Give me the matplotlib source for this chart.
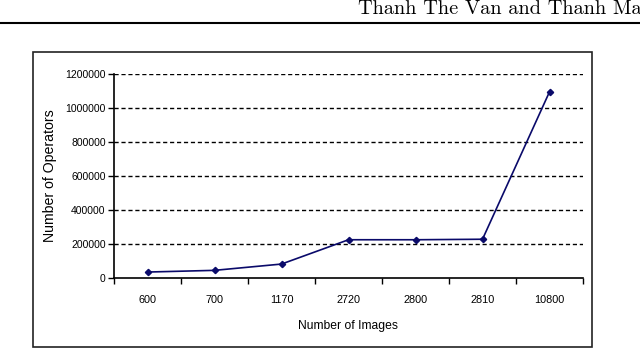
import matplotlib
matplotlib.use("Agg")
import matplotlib.pyplot as plt
from matplotlib.patches import Rectangle
from matplotlib.lines import Line2D

categories = ["600", "700", "1170", "2720", "2800", "2810", "10800"]
operators = [35000, 45000, 82000, 225000, 225000, 228000, 1095000]
y_ticks = [0, 200000, 400000, 600000, 800000, 1000000, 1200000]

plt.rcParams['font.family'] = ['Liberation Sans', 'DejaVu Sans']

fig = plt.figure(figsize=(6.4, 3.53), dpi=100)
W, H = 640, 353

# header (clipped at the right edge, as in the reference)
fig.text(358 / W, 1 - 14 / H, "Thanh The Van and Thanh Ma", family=['cmr10', 'DejaVu Serif'],
         fontsize=14.6, ha='left', va='baseline')
fig.add_artist(Line2D([0, 1], [1 - 23 / H, 1 - 23 / H], color='black', lw=1.5,
                      transform=fig.transFigure))
# chart frame
fig.add_artist(Rectangle((32.5 / W, 1 - 347 / H), (591.5 - 32.5) / W, (347 - 52) / H,
                         transform=fig.transFigure, fill=False, ec='#222222', lw=1.2))

ax = fig.add_axes([114 / W, 1 - 278 / H, (583 - 114) / W, (278 - 74) / H])
x = list(range(len(categories)))
ax.plot(x, operators, color='#0a0a6a', lw=1.2, marker='D', markersize=3.2,
        markerfacecolor='#0a0a6a', markeredgecolor='#0a0a6a')
ax.set_xlim(-0.5, len(categories) - 0.5)
ax.set_ylim(0, 1200000)
ax.set_yticks(y_ticks)
ax.set_yticklabels([str(v) for v in y_ticks])
ax.set_xticks([i - 0.5 for i in range(len(categories) + 1)])
ax.set_xticklabels([])
ax.set_xticks(x, minor=True)
ax.set_xticklabels(categories, minor=True)
ax.tick_params(axis='x', which='minor', length=0, pad=12, labelsize=7.8)
ax.tick_params(axis='x', which='major', length=4, width=1, direction='out')
ax.tick_params(axis='y', length=4, width=1, direction='out', labelsize=7.5, pad=2)
for v in y_ticks[1:]:
    ax.axhline(v, color='black', lw=1, ls=(0, (3, 2)), zorder=0)
ax.spines['top'].set_visible(False)
ax.spines['right'].set_visible(False)
ax.spines['left'].set_linewidth(1.2)
ax.spines['bottom'].set_linewidth(1.2)
ax.set_xlabel("Number of Images", fontsize=8.7, labelpad=11)
ax.set_ylabel("Number of Operators", fontsize=10.2, labelpad=6)

fig.savefig("out.png", dpi=100)
